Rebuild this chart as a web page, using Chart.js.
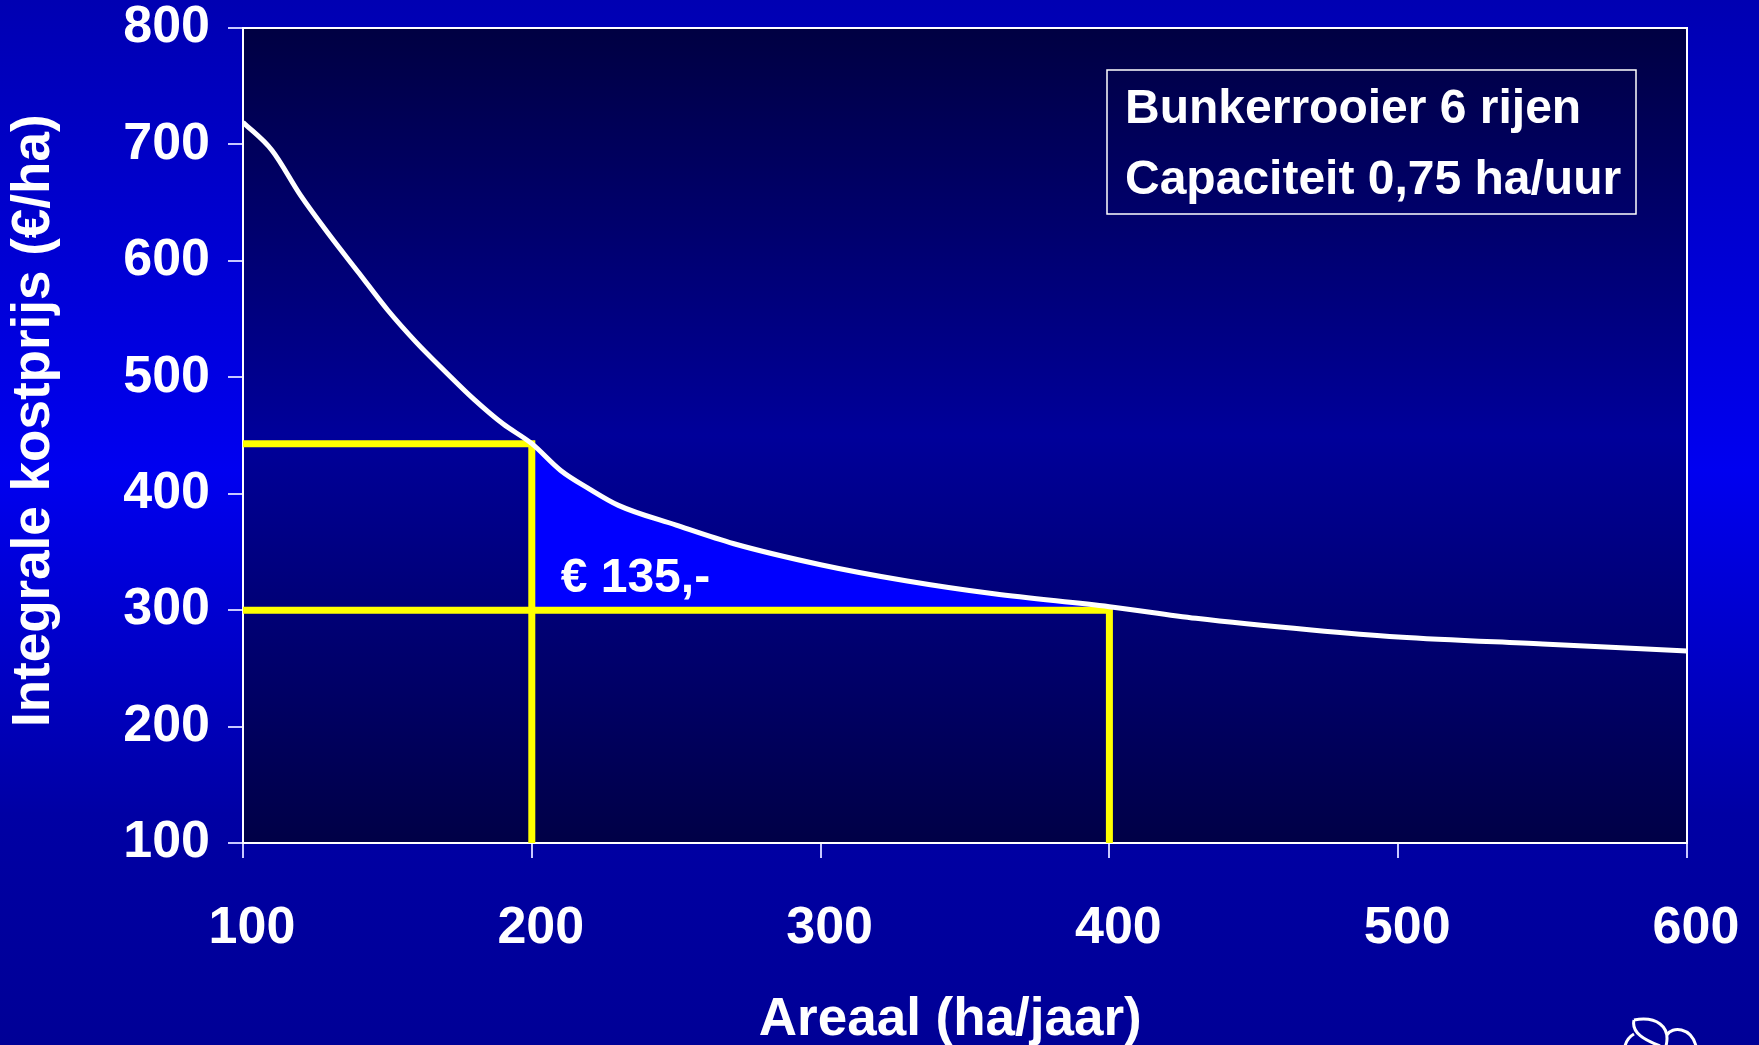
<!DOCTYPE html>
<html>
<head>
<meta charset="utf-8">
<script src="https://cdn.jsdelivr.net/npm/chart.js@4.4.1/dist/chart.umd.min.js"></script>
<style>
  html, body { margin: 0; padding: 0; }
  body {
    width: 1759px; height: 1045px; overflow: hidden;
    background: linear-gradient(to bottom, #0000b2 0%, #0000f0 45%, #0000a4 78%, #000096 100%);
  }
  #chart { display: block; }
</style>
</head>
<body>
<canvas id="chart" width="1759" height="1045"></canvas>
<script>
// areaal (ha/jaar) en integrale kostprijs (euro/ha)
const areaal    = [100, 110, 120, 130, 140, 150, 160, 170, 180, 190, 200, 210, 220, 230, 250, 270, 300, 330, 360, 400, 430, 470, 500, 550, 600];
const kostprijs = [719, 695, 656, 622, 590, 558, 530, 505, 481, 460, 443, 420, 404, 390, 373, 357, 339, 325, 314, 303, 293, 283, 277, 271, 265];

// hulplijnen bij 200 en 400 ha
const refAreaal = [200, 400];
const refKostprijs = [443, 300];
const verschilLabel = '€ 135,-';
const verschilPos = [210, 316];

const legendLines = ['Bunkerrooier 6 rijen', 'Capaciteit 0,75 ha/uur'];

const FONT = '"Liberation Sans", Arial, sans-serif';

const curve = areaal.map((x, i) => ({ x: x, y: kostprijs[i] }));
const filled = curve.filter(p => p.x >= refAreaal[0] && p.x <= refAreaal[1]);
const yMin = 100;

const lijn200 = [
    { x: areaal[0], y: refKostprijs[0] },
    { x: refAreaal[0], y: refKostprijs[0] },
    { x: refAreaal[0], y: yMin }
];
const lijn400 = [
    { x: areaal[0], y: refKostprijs[1] },
    { x: refAreaal[1], y: refKostprijs[1] },
    { x: refAreaal[1], y: yMin }
];

const plotBackground = {
    id: 'plotBackground',
    beforeDatasetsDraw(chart) {
        const { ctx, chartArea: a } = chart;
        const g = ctx.createLinearGradient(0, a.top, 0, a.bottom);
        g.addColorStop(0, '#000042');
        g.addColorStop(0.5, '#00009a');
        g.addColorStop(1, '#000046');
        ctx.save();
        ctx.fillStyle = g;
        ctx.fillRect(a.left, a.top, a.right - a.left, a.bottom - a.top);
        ctx.strokeStyle = '#ffffff';
        ctx.lineWidth = 2;
        ctx.strokeRect(a.left, a.top, a.right - a.left, a.bottom - a.top);
        ctx.restore();
    }
};

const extras = {
    id: 'extras',
    afterDraw(chart) {
        const { ctx, chartArea: a, scales } = chart;
        ctx.save();

        // tekstvak rechtsboven
        const bx = a.left + 864, by = a.top + 42, bw = 529, bh = 144;
        ctx.strokeStyle = '#ffffff';
        ctx.lineWidth = 1.5;
        ctx.strokeRect(bx, by, bw, bh);
        ctx.fillStyle = '#ffffff';
        ctx.font = 'bold 48px ' + FONT;
        ctx.textBaseline = 'alphabetic';
        ctx.textAlign = 'left';
        ctx.fillText(legendLines[0], bx + 18, by + 53);
        ctx.fillText(legendLines[1], bx + 18, by + 124);

        // verschil label
        ctx.fillText(verschilLabel,
            scales.x.getPixelForValue(verschilPos[0]),
            scales.y.getPixelForValue(verschilPos[1]));

        // logo rechtsonder
        ctx.strokeStyle = '#ffffff';
        ctx.lineWidth = 3;
        ctx.beginPath();
        ctx.moveTo(1634, 1020);
        ctx.bezierCurveTo(1656, 1016, 1671, 1026, 1666, 1046);
        ctx.moveTo(1634, 1020);
        ctx.bezierCurveTo(1631, 1033, 1645, 1040, 1660, 1046);
        ctx.moveTo(1667, 1035);
        ctx.bezierCurveTo(1672, 1026, 1691, 1027, 1696, 1046);
        ctx.moveTo(1625, 1046);
        ctx.quadraticCurveTo(1627, 1038, 1634, 1034);
        ctx.stroke();

        ctx.restore();
    }
};

new Chart(document.getElementById('chart').getContext('2d'), {
    type: 'line',
    data: {
        datasets: [
            {
                label: 'Kostprijs',
                data: curve,
                borderColor: '#ffffff',
                borderWidth: 5,
                pointRadius: 0,
                cubicInterpolationMode: 'monotone',
                fill: false
            },
            {
                label: '200 ha',
                data: lijn200,
                borderColor: '#ffff00',
                borderWidth: 7,
                pointRadius: 0,
                tension: 0,
                fill: false
            },
            {
                label: '400 ha',
                data: lijn400,
                borderColor: '#ffff00',
                borderWidth: 7,
                pointRadius: 0,
                tension: 0,
                fill: false
            },
            {
                label: 'Verschil',
                data: filled,
                borderWidth: 0,
                borderColor: 'rgba(0,0,0,0)',
                backgroundColor: '#0000ff',
                pointRadius: 0,
                cubicInterpolationMode: 'monotone',
                fill: { value: refKostprijs[1] }
            }
        ]
    },
    options: {
        responsive: false,
        animation: false,
        events: [],
        layout: { padding: { top: 28, right: 72, left: 0, bottom: 0 } },
        plugins: {
            legend: { display: false },
            tooltip: { enabled: false }
        },
        scales: {
            x: {
                type: 'linear',
                min: 100,
                max: 600,
                afterFit(scale) {
                    scale.height = 202;
                    scale.paddingLeft = 0;
                    scale.paddingRight = 0;
                },
                grid: { drawOnChartArea: false, tickLength: 15, color: '#c8c8ff', lineWidth: 2 },
                border: { display: false },
                ticks: {
                    stepSize: 100,
                    color: '#ffffff',
                    padding: 45,
                    labelOffset: 9,
                    maxRotation: 0,
                    font: { family: FONT, size: 52, weight: 'bold', lineHeight: 1 }
                },
                title: {
                    display: true,
                    // twee spaties achteraan: titel staat iets links van het midden
                    text: 'Areaal (ha/jaar)  ',
                    color: '#ffffff',
                    padding: 0,
                    font: { family: FONT, size: 53, weight: 'bold', lineHeight: 0.93 }
                }
            },
            y: {
                min: 100,
                max: 800,
                afterFit(scale) {
                    scale.width = 243;
                    scale.paddingTop = 0;
                    scale.paddingBottom = 0;
                },
                grid: { drawOnChartArea: false, tickLength: 15, color: '#c8c8ff', lineWidth: 2 },
                border: { display: false },
                ticks: {
                    stepSize: 100,
                    color: '#ffffff',
                    padding: 18,
                    font: { family: FONT, size: 52, weight: 'bold', lineHeight: 1 }
                },
                title: {
                    display: true,
                    text: '  Integrale kostprijs (€/ha)',
                    color: '#ffffff',
                    padding: { top: 3, bottom: 0 },
                    font: { family: FONT, size: 53, weight: 'bold', lineHeight: 1.2 }
                }
            }
        }
    },
    plugins: [plotBackground, extras]
});
</script>
</body>
</html>
